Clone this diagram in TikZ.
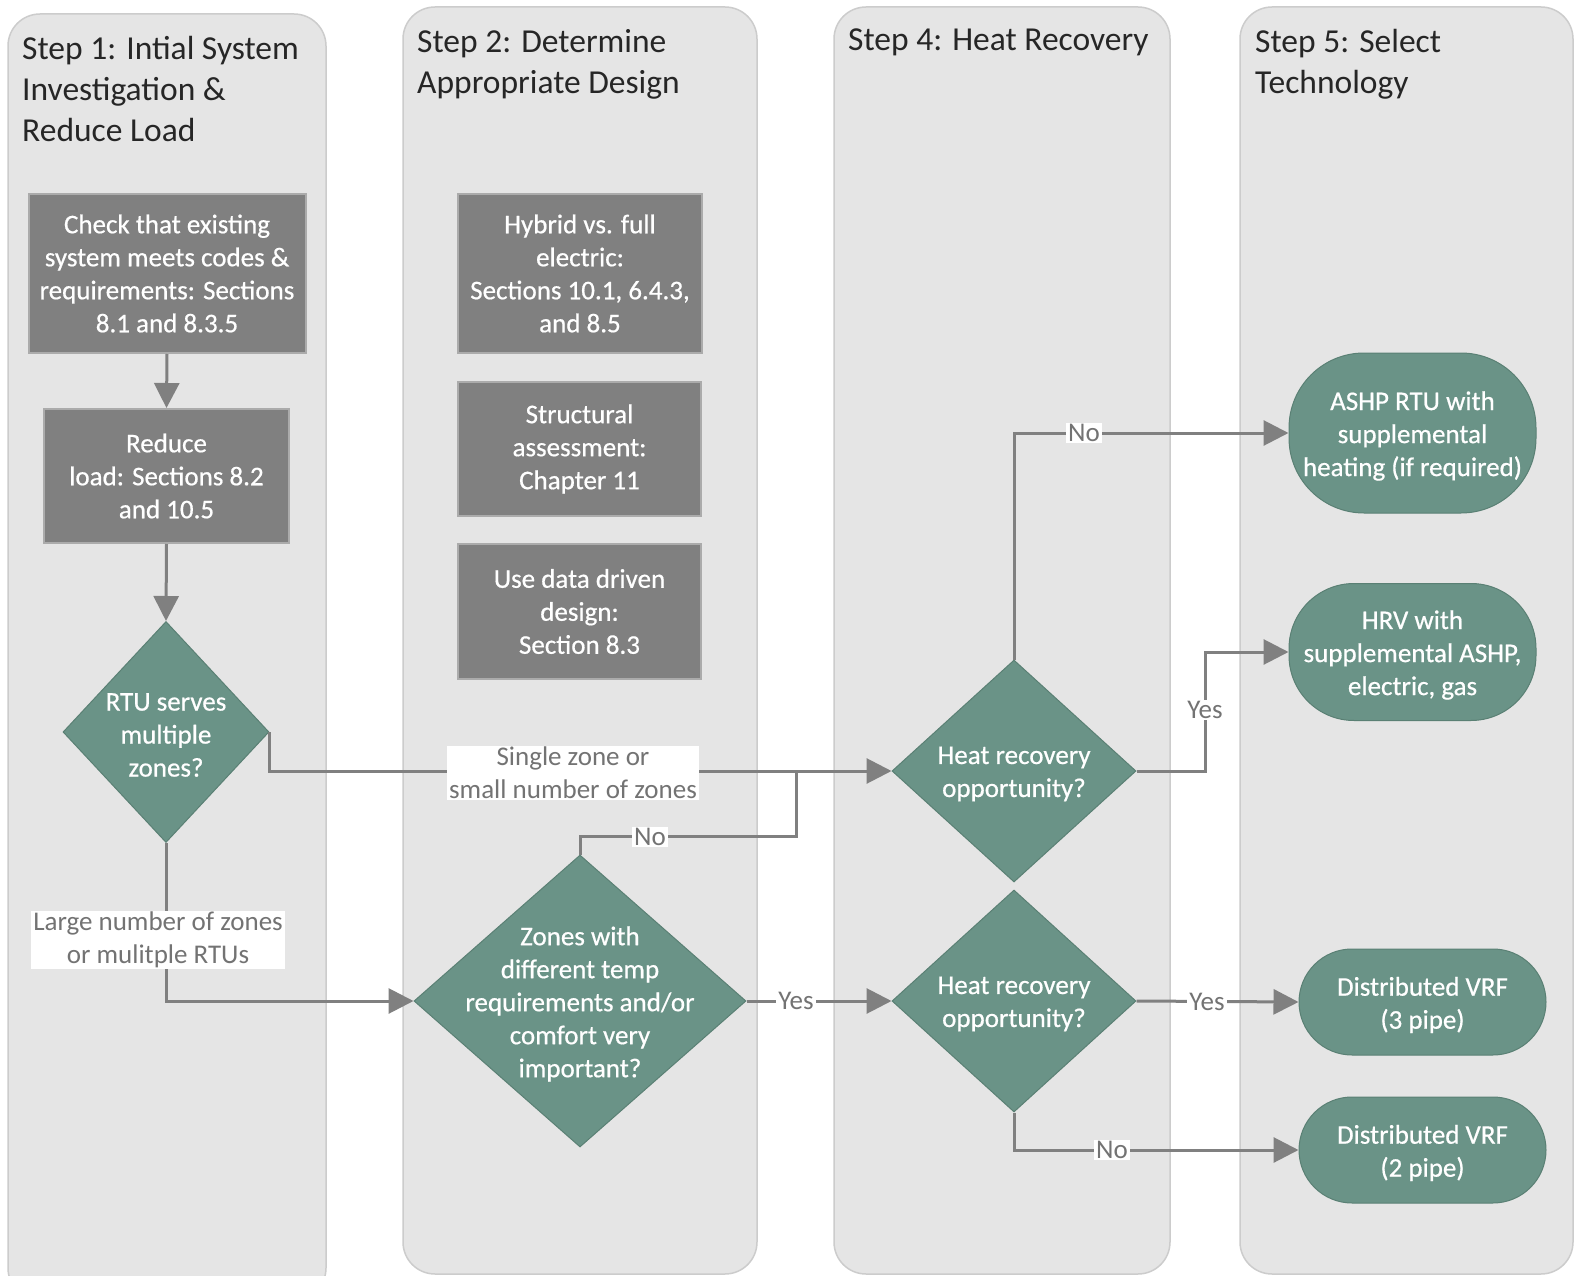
\documentclass[tikz,border=0pt]{standalone}
\usepackage{fontspec}
\setmainfont{Carlito}
\newfontfamily\whiteface[FakeBold=0.6]{Carlito}
\usetikzlibrary{shapes.geometric,arrows.meta}
\definecolor{lanefill}{HTML}{E5E5E5}
\definecolor{laneline}{HTML}{CCCCCC}
\definecolor{boxfill}{HTML}{808080}
\definecolor{boxline}{HTML}{ABABAB}
\definecolor{greenfill}{HTML}{6A9387}
\definecolor{greenline}{HTML}{5A8074}
\definecolor{connline}{HTML}{808080}
\definecolor{lbltext}{HTML}{737373}
\definecolor{titletext}{HTML}{262626}
\newcommand{\bodyfont}{\fontsize{27}{33}\selectfont}
\newcommand{\whitebody}{\whiteface\fontsize{27}{33}\selectfont}
\newcommand{\titlefont}{\fontsize{33.5}{41}\selectfont}
\tikzset{
  lane/.style={fill=lanefill, draw=laneline, line width=1.5pt, rounded corners=32pt},
  lanetitle/.style={anchor=north west, inner sep=0pt, align=left, font=\titlefont, text=titletext},
  graybox/.style={rectangle, fill=boxfill, draw=boxline, line width=2pt, text=white, font=\whitebody, align=center, inner sep=0pt},
  dia/.style={diamond, aspect=1, fill=greenfill, draw=greenline, line width=1pt, inner sep=0pt},
  whitetext/.style={text=white, font=\whitebody, align=center, inner sep=0pt, yshift=-3pt},
  term/.style={rectangle, fill=greenfill, draw=greenline, line width=1pt, inner sep=0pt},
  conn/.style={draw=connline, line width=3pt, -{Triangle[length=25pt,width=25pt]}},
  plain/.style={draw=connline, line width=3pt},
  lbl/.style={fill=white, text=lbltext, font=\bodyfont, align=center, inner xsep=2pt, inner ysep=1pt}
}
\begin{document}
\begin{tikzpicture}[x=1pt,y=-1pt]
\useasboundingbox (0,0) rectangle (1575,1276);
\fill[white] (0,0) rectangle (1575,1276);
% lanes
\draw[lane] (8,14) rectangle (326,1300);
\draw[lane] (403,7) rectangle (757,1274);
\draw[lane] (834,7) rectangle (1170,1274);
\draw[lane] (1240,7) rectangle (1573,1274);
\node[lanetitle] (t1) at (22,36) {Step 1: Intial System\\Investigation \&\\Reduce Load};
\node[lanetitle] (t2) at (417,29) {Step 2: Determine\\Appropriate Design};
\node[lanetitle] (t4) at (848,29) {Step 4: Heat Recovery};
\node[lanetitle] (t5) at (1255,29) {Step 5: Select\\Technology};
% step 1
\node[graybox, minimum width=277pt, minimum height=159pt] (b1) at (167,273.5) {Check that existing\\system meets codes \&\\requirements: Sections\\8.1 and 8.3.5};
\node[graybox, minimum width=245pt, minimum height=134pt] (b2) at (166.5,476) {Reduce\\load: Sections 8.2\\and 10.5};
\node[dia, minimum width=206pt, minimum height=221pt] (d1) at (166,732) {};
\node[whitetext] at (d1) {RTU serves\\multiple\\zones?};
% step 2
\node[graybox, minimum width=244pt, minimum height=159pt] (h1) at (580,273.5) {Hybrid vs. full\\electric:\\Sections 10.1, 6.4.3,\\and 8.5};
\node[graybox, minimum width=243pt, minimum height=134pt] (h2) at (579.5,449) {Structural\\assessment:\\Chapter 11};
\node[graybox, minimum width=243pt, minimum height=135pt] (h3) at (579.5,611.5) {Use data driven\\design:\\Section 8.3};
\node[dia, minimum width=332pt, minimum height=292pt] (d2) at (580,1001) {};
\node[whitetext] at (d2) {Zones with\\different temp\\requirements and/or\\comfort very\\important?};
% step 4
\node[dia, minimum width=244pt, minimum height=222pt] (d3) at (1014,771) {};
\node[whitetext] at (d3) {Heat recovery\\opportunity?};
\node[dia, minimum width=244pt, minimum height=222pt] (d4) at (1014,1001) {};
\node[whitetext] at (d4) {Heat recovery\\opportunity?};
% step 5
\node[term, minimum width=247pt, minimum height=160pt, rounded corners=75pt] (r1) at (1412.5,433) {};
\node[whitetext] at (r1) {ASHP RTU with\\supplemental\\heating (if required)};
\node[term, minimum width=247pt, minimum height=137pt, rounded corners=65pt] (r2) at (1412.5,652) {};
\node[whitetext] at (r2) {HRV with\\supplemental ASHP,\\electric, gas};
\node[term, minimum width=247pt, minimum height=106pt, rounded corners=53pt] (r3) at (1422.5,1002) {};
\node[whitetext] at (r3) {Distributed VRF\\(3 pipe)};
\node[term, minimum width=247pt, minimum height=106pt, rounded corners=53pt] (r4) at (1422.5,1150) {};
\node[whitetext] at (r4) {Distributed VRF\\(2 pipe)};
% connectors
\coordinate (j) at (796,771);
\draw[conn] (b1.south) -- (b2.north);
\draw[conn] (b2.south) -- (d1.north);
\draw[conn] (d1.east) |- (d3.west);
\draw[conn] (d1.south) |- (d2.west);
\draw[plain] (d2.north) -- ++(0,-18) -| (j);
\draw[conn] (d2.east) -- (d4.west);
\draw[conn] (d3.north) |- (r1.west);
\draw[conn] (d3.east) -- ++(69,0) |- (r2.west);
\draw[conn] (d4.east) -- (r3.west);
\draw[conn] (d4.south) |- (r4.west);
% labels
\node[lbl] (l1) at (573,773) {Single zone or\\small number of zones};
\node[lbl] (l2) at (158,940) {Large number of zones\\or mulitple RTUs};
\node[lbl] (l3) at (650,837) {No};
\node[lbl] (l4) at (796,1001) {Yes};
\node[lbl] (l5) at (1084,433) {No};
\node[lbl] (l6) at (1205,710) {Yes};
\node[lbl] (l7) at (1207,1002) {Yes};
\node[lbl] (l8) at (1112,1150) {No};
\end{tikzpicture}
\end{document}
